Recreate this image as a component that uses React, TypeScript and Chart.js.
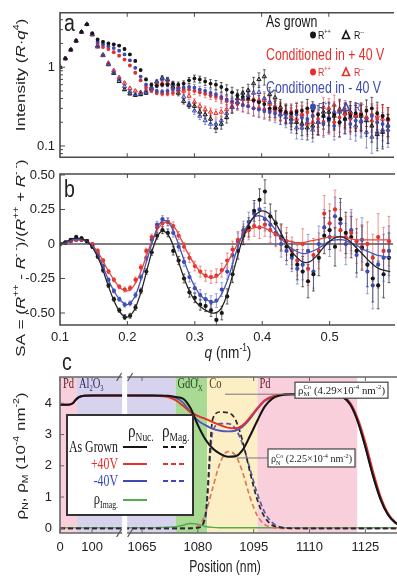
import { useEffect, useRef } from 'react';
import { Chart, registerables } from 'chart.js';

Chart.register(...registerables);

// ================= Panel a / b : momentum transfer q (nm^-1) =================
const Q = [
  0.100, 0.108, 0.116, 0.124, 0.132, 0.140, 0.148, 0.156,
  0.164, 0.172, 0.180, 0.188, 0.196, 0.204, 0.212, 0.220,
  0.228, 0.236, 0.244, 0.252, 0.260, 0.268, 0.276, 0.284,
  0.292, 0.300, 0.308, 0.316, 0.324, 0.332, 0.340, 0.348,
  0.356, 0.364, 0.372, 0.380, 0.388, 0.396, 0.404, 0.412,
  0.420, 0.428, 0.436, 0.444, 0.452, 0.460, 0.468, 0.476,
  0.484, 0.492, 0.500, 0.508, 0.516, 0.524, 0.532, 0.540,
  0.548, 0.556, 0.564, 0.572, 0.580, 0.588,
];
// relative error of the reflectivity (panel a)
const ERR_A = [
  0.02, 0.02, 0.02, 0.02, 0.02, 0.02, 0.02, 0.02,
  0.03, 0.03, 0.03, 0.03, 0.03, 0.03, 0.03, 0.03,
  0.04, 0.05, 0.05, 0.06, 0.06, 0.07, 0.08, 0.08,
  0.09, 0.1, 0.1, 0.11, 0.12, 0.13, 0.14, 0.15,
  0.16, 0.17, 0.18, 0.19, 0.2, 0.21, 0.22, 0.23,
  0.24, 0.25, 0.26, 0.27, 0.28, 0.29, 0.3, 0.3,
  0.31, 0.32, 0.33, 0.34, 0.35, 0.35, 0.36, 0.36,
  0.37, 0.37, 0.38, 0.38, 0.39, 0.4,
];
// As grown
const AG_UP = [
  1.0, 1.29, 1.67, 2.16, 2.8, 3.5, 2.7, 2.25,
  2.1, 2.0, 1.95, 1.88, 1.7, 1.45, 1.2, 0.92,
  0.7, 0.6, 0.58, 0.6, 0.6, 0.62, 0.6, 0.62,
  0.68, 0.72, 0.7, 0.66, 0.62, 0.6, 0.56, 0.52,
  0.48, 0.44, 0.42, 0.4, 0.38, 0.36, 0.34, 0.3,
  0.3, 0.28, 0.27, 0.26, 0.27, 0.28, 0.3, 0.28,
  0.25, 0.24, 0.22, 0.25, 0.2, 0.22, 0.24, 0.26,
  0.25, 0.28, 0.3, 0.26, 0.24, 0.22,
];
const AG_LO = [
  1.0, 1.29, 1.67, 2.16, 2.8, 3.5, 2.6, 1.88,
  1.43, 1.08, 0.84, 0.66, 0.52, 0.46, 0.44, 0.45,
  0.47, 0.53, 0.65, 0.73, 0.7, 0.56, 0.47, 0.37,
  0.33, 0.32, 0.27, 0.25, 0.22, 0.17, 0.19, 0.23,
  0.31, 0.4, 0.47, 0.51, 0.62, 0.7, 0.76, 0.45,
  0.41, 0.31, 0.26, 0.22, 0.2, 0.19, 0.17, 0.18,
  0.2, 0.27, 0.27, 0.24, 0.29, 0.26, 0.27, 0.24,
  0.24, 0.21, 0.18, 0.14, 0.15, 0.18,
];
// Conditioned in +40 V
const P40_UP = [
  1.0, 1.29, 1.67, 2.16, 2.8, 3.5, 2.6, 2.0,
  1.8, 1.7, 1.55, 1.4, 1.25, 1.05, 0.85, 0.68,
  0.55, 0.5, 0.47, 0.46, 0.46, 0.47, 0.5, 0.52,
  0.52, 0.5, 0.48, 0.46, 0.44, 0.42, 0.4, 0.37,
  0.35, 0.34, 0.33, 0.32, 0.3, 0.3, 0.29, 0.28,
  0.28, 0.27, 0.26, 0.27, 0.28, 0.25, 0.27, 0.24,
  0.22, 0.2, 0.22, 0.2, 0.23, 0.25, 0.22, 0.24,
  0.26, 0.23, 0.25, 0.22, 0.24, 0.21,
];
const P40_LO = [
  1.0, 1.29, 1.67, 2.16, 2.8, 3.5, 2.6, 1.81,
  1.41, 1.13, 0.91, 0.74, 0.63, 0.54, 0.5, 0.48,
  0.5, 0.55, 0.6, 0.62, 0.63, 0.61, 0.56, 0.5,
  0.43, 0.36, 0.32, 0.29, 0.27, 0.26, 0.27, 0.29,
  0.32, 0.36, 0.39, 0.39, 0.39, 0.38, 0.38, 0.34,
  0.32, 0.29, 0.27, 0.24, 0.22, 0.25, 0.19, 0.2,
  0.2, 0.31, 0.3, 0.33, 0.28, 0.28, 0.26, 0.25,
  0.25, 0.23, 0.21, 0.24, 0.22, 0.22,
];
// Conditioned in -40 V
const M40_UP = [
  1.0, 1.29, 1.67, 2.16, 2.8, 3.5, 2.65, 2.1,
  1.95, 1.85, 1.75, 1.62, 1.45, 1.22, 0.98, 0.76,
  0.6, 0.53, 0.5, 0.49, 0.5, 0.52, 0.54, 0.55,
  0.56, 0.55, 0.52, 0.5, 0.47, 0.45, 0.42, 0.39,
  0.37, 0.35, 0.33, 0.32, 0.3, 0.29, 0.28, 0.27,
  0.26, 0.25, 0.25, 0.24, 0.25, 0.23, 0.22, 0.24,
  0.2, 0.19, 0.21, 0.18, 0.2, 0.22, 0.19, 0.21,
  0.2, 0.22, 0.24, 0.2, 0.19, 0.18,
];
const M40_LO = [
  1.0, 1.29, 1.67, 2.16, 2.8, 3.5, 2.6, 1.83,
  1.41, 1.09, 0.86, 0.7, 0.57, 0.49, 0.45, 0.47,
  0.49, 0.56, 0.66, 0.71, 0.69, 0.61, 0.52, 0.42,
  0.34, 0.28, 0.24, 0.21, 0.19, 0.19, 0.21, 0.26,
  0.31, 0.36, 0.4, 0.44, 0.47, 0.48, 0.4, 0.36,
  0.3, 0.25, 0.23, 0.2, 0.17, 0.17, 0.2, 0.16,
  0.2, 0.24, 0.23, 0.27, 0.27, 0.22, 0.23, 0.18,
  0.21, 0.15, 0.13, 0.15, 0.16, 0.16,
];

// Spin asymmetry (panel b)
const SA_AG = [
  0, 0.01, 0.03, 0.05, 0.04, 0.02, -0.02, -0.09,
  -0.19, -0.3, -0.4, -0.48, -0.53, -0.52, -0.46, -0.34,
  -0.2, -0.06, 0.06, 0.1, 0.08, -0.05, -0.12, -0.25,
  -0.35, -0.39, -0.44, -0.45, -0.48, -0.55, -0.5, -0.38,
  -0.22, -0.05, 0.06, 0.12, 0.24, 0.32, 0.38, 0.2,
  0.15, 0.05, -0.02, -0.08, -0.15, -0.2, -0.27, -0.22,
  -0.1, 0.06, 0.1, -0.02, 0.18, 0.08, 0.05, -0.05,
  -0.03, -0.15, -0.25, -0.3, -0.22, -0.1,
];
const SA_P40 = [
  0, 0.01, 0.02, 0.03, 0.03, 0.02, 0.0, -0.05,
  -0.12, -0.2, -0.26, -0.31, -0.33, -0.32, -0.26, -0.17,
  -0.05, 0.05, 0.12, 0.15, 0.16, 0.13, 0.06, -0.02,
  -0.1, -0.16, -0.2, -0.23, -0.24, -0.23, -0.19, -0.12,
  -0.04, 0.03, 0.08, 0.1, 0.13, 0.12, 0.14, 0.1,
  0.07, 0.04, 0.02, -0.05, -0.12, 0.0, -0.18, -0.08,
  -0.05, 0.22, 0.15, 0.25, 0.1, 0.05, 0.08, 0.02,
  -0.02, 0.0, -0.1, 0.05, -0.05, 0.02,
];
const SA_M40 = [
  0, 0.01, 0.02, 0.03, 0.03, 0.02, -0.01, -0.07,
  -0.16, -0.26, -0.34, -0.4, -0.44, -0.43, -0.37, -0.24,
  -0.1, 0.03, 0.14, 0.18, 0.16, 0.08, -0.02, -0.13,
  -0.24, -0.32, -0.37, -0.4, -0.42, -0.41, -0.33, -0.2,
  -0.08, 0.02, 0.1, 0.16, 0.22, 0.25, 0.18, 0.14,
  0.08, 0.0, -0.05, -0.1, -0.18, -0.15, -0.05, -0.2,
  0.0, 0.12, 0.05, 0.2, 0.15, 0.0, 0.1, -0.08,
  0.03, -0.2, -0.3, -0.15, -0.1, -0.05,
];
const ERR_B = [
  0.01, 0.01, 0.01, 0.012, 0.012, 0.012, 0.012, 0.015,
  0.015, 0.015, 0.015, 0.015, 0.018, 0.018, 0.02, 0.02,
  0.02, 0.022, 0.025, 0.025, 0.028, 0.03, 0.03, 0.032,
  0.035, 0.035, 0.04, 0.04, 0.045, 0.05, 0.05, 0.055,
  0.06, 0.06, 0.065, 0.07, 0.075, 0.08, 0.085, 0.09,
  0.09, 0.095, 0.1, 0.1, 0.11, 0.11, 0.12, 0.12,
  0.13, 0.13, 0.14, 0.14, 0.15, 0.15, 0.15, 0.16,
  0.16, 0.16, 0.17, 0.17, 0.17, 0.18,
];
const Q_FIT = [
  0.10, 0.11, 0.12, 0.13, 0.14, 0.15, 0.16, 0.17, 0.18, 0.19,
  0.20, 0.21, 0.22, 0.23, 0.24, 0.25, 0.26, 0.27, 0.28, 0.29,
  0.30, 0.31, 0.32, 0.33, 0.34, 0.35, 0.36, 0.37, 0.38, 0.39,
  0.40, 0.41, 0.42, 0.43, 0.44, 0.45, 0.46, 0.47, 0.48, 0.49,
  0.50, 0.51, 0.52, 0.53, 0.54, 0.55, 0.56, 0.57, 0.58, 0.59,
];
const FIT_AG = [
  0, 0.02, 0.04, 0.04, 0.02, -0.04, -0.14, -0.28, -0.41, -0.5,
  -0.53, -0.48, -0.35, -0.17, 0, 0.09, 0.07, -0.04, -0.19, -0.32,
  -0.41, -0.46, -0.49, -0.5, -0.46, -0.33, -0.15, 0.02, 0.14, 0.21,
  0.24, 0.22, 0.15, 0.06, -0.03, -0.09, -0.13, -0.13, -0.09, -0.03,
  0.02, 0.05, 0.05, 0.02, -0.03, -0.08, -0.13, -0.17, -0.19, -0.2,
];
const FIT_P40 = [
  0, 0.01, 0.03, 0.03, 0.02, -0.02, -0.09, -0.18, -0.26, -0.32,
  -0.34, -0.3, -0.2, -0.06, 0.06, 0.14, 0.16, 0.12, 0.03, -0.07,
  -0.15, -0.21, -0.24, -0.24, -0.2, -0.12, -0.03, 0.05, 0.1, 0.12,
  0.12, 0.1, 0.07, 0.04, 0.02, 0.01, 0.01, 0.02, 0.03, 0.04,
  0.05, 0.05, 0.05, 0.04, 0.03, 0.03, 0.03, 0.03, 0.03, 0.03,
];
const FIT_M40 = [
  0, 0.01, 0.03, 0.03, 0.02, -0.03, -0.12, -0.24, -0.34, -0.41,
  -0.44, -0.39, -0.26, -0.1, 0.06, 0.16, 0.16, 0.07, -0.06, -0.2,
  -0.31, -0.38, -0.41, -0.42, -0.36, -0.24, -0.08, 0.06, 0.15, 0.2,
  0.2, 0.16, 0.1, 0.03, -0.02, -0.05, -0.07, -0.06, -0.04, -0.01,
  0.02, 0.03, 0.03, 0.01, -0.01, -0.04, -0.06, -0.08, -0.09, -0.1,
];
const Q_RANGE = [0.1, 0.594];
const Q_TICKS = [0.1, 0.2, 0.3, 0.4, 0.5];
const Q_LABELS = ['0.1', '0.2', '0.3', '0.4', '0.5'];
const INT_RANGE = [0.072, 4.9];
const INT_TICKS = [0.1, 1];
const INT_LABELS = ['0.1', '1'];
const INT_MINOR = [0.08, 0.09, 0.2, 0.3, 0.4, 0.5, 0.6, 0.7, 0.8, 0.9, 2, 3, 4];
const SA_RANGE = [-0.587, 0.507];
const SA_TICKS = [-0.5, -0.25, 0, 0.25, 0.5];
const SA_LABELS = ['-0.50', '-0.25', '0', '0.25', '0.50'];
const LEG_A = ['As grown', 'Conditioned in + 40 V', 'Conditioned in - 40 V'];

// ================= Panel c : SLD depth profile =================
const POS = [
  0, 25, 40, 50, 60, 75, 100, 150, 194,
  1061, 1068, 1072, 1074, 1076, 1078, 1080, 1082, 1084, 1086,
  1088, 1090, 1092, 1094, 1096, 1098, 1100, 1102, 1105, 1110,
  1116, 1119, 1121, 1123, 1125, 1127, 1129, 1131, 1133, 1135,
];
const NUC_AG = [
  3.95, 3.95, 4.0, 4.12, 4.2, 4.24, 4.25, 4.25, 4.25,
  4.25, 4.25, 4.24, 4.2, 4.15, 3.85, 3.3, 2.85, 2.55, 2.38,
  2.29, 2.3, 2.5, 2.95, 3.45, 3.9, 4.15, 4.25, 4.29, 4.29,
  4.29, 4.2, 3.95, 3.4, 2.6, 1.7, 0.95, 0.45, 0.18, 0.07,
];
const NUC_P40 = [
  3.95, 3.95, 4.0, 4.12, 4.2, 4.24, 4.25, 4.25, 4.25,
  4.25, 4.24, 4.2, 4.1, 3.92, 3.72, 3.6, 3.5, 3.4, 3.3,
  3.22, 3.2, 3.3, 3.55, 3.85, 4.1, 4.22, 4.27, 4.29, 4.29,
  4.29, 4.22, 4.0, 3.5, 2.75, 1.85, 1.05, 0.5, 0.2, 0.08,
];
const NUC_M40 = [
  3.95, 3.95, 4.0, 4.12, 4.2, 4.24, 4.25, 4.25, 4.25,
  4.25, 4.25, 4.23, 4.18, 4.02, 3.72, 3.45, 3.3, 3.18, 3.12,
  3.1, 3.12, 3.25, 3.5, 3.82, 4.08, 4.2, 4.26, 4.29, 4.29,
  4.29, 4.2, 3.95, 3.42, 2.62, 1.72, 0.97, 0.46, 0.19, 0.07,
];
const MAG_AG = [
  0, 0, 0, 0, 0, 0, 0, 0, 0,
  0, 0, 0, 0, 0, 0, 0.02, 0.4, 3.5, 3.72,
  3.7, 3.5, 2.8, 1.8, 0.9, 0.35, 0.1, 0.03, 0, 0,
  0, 0, 0, 0, 0, 0, 0, 0, 0, 0,
];
const MAG_P40 = [
  0, 0, 0, 0, 0, 0, 0, 0, 0,
  0, 0, 0, 0, 0, 0.01, 0.08, 0.45, 1.3, 2.1,
  2.45, 2.35, 1.8, 1.0, 0.4, 0.12, 0.03, 0, 0, 0,
  0, 0, 0, 0, 0, 0, 0, 0, 0, 0,
];
const MAG_M40 = [
  0, 0, 0, 0, 0, 0, 0, 0, 0,
  0, 0, 0, 0, 0, 0, 0.02, 0.3, 3.1, 3.35,
  3.35, 3.2, 2.7, 1.9, 1.1, 0.5, 0.18, 0.05, 0.01, 0,
  0, 0, 0, 0, 0, 0, 0, 0, 0, 0,
];
const IMAG = [
  0.02, 0.02, 0.02, 0.02, 0.02, 0.02, 0.02, 0.02, 0.02,
  0.02, 0.02, 0.03, 0.05, 0.1, 0.15, 0.13, 0.06, 0.03, 0.02,
  0.02, 0.02, 0.02, 0.02, 0.02, 0.02, 0.02, 0.02, 0.02, 0.02,
  0.02, 0.02, 0.02, 0.02, 0.02, 0.02, 0.02, 0.02, 0.02, 0.02,
];
const POS_TICKS = [0, 100, 1065, 1080, 1095, 1110, 1125];
const POS_LABELS = ['0', '100', '1065', '1080', '1095', '1110', '1125'];
const POS_MAX = 1133.5;
const BREAK_FROM = 194;
const BREAK_TO = 1061;
const RHO_RANGE = [-0.15, 4.84];
const RHO_TICKS = [0, 1, 2, 3, 4];
const LAYER_NAMES = ['Pd', 'Al2O3', 'GdOx', 'Co', 'Pd'];
const LAYER_FROM = [0, 53, 1074, 1082.5, 1096];
const LAYER_TO = [53, 1074, 1082.5, 1096, 1122.8];
const SLD_NOTE_VALUES = [4.29, 2.25];
const LEG_C = ['As Grown', '+40V', '-40V'];

// ================= styles =================
const C_BLACK = '#161616';
const C_RED = '#e3302c';
const C_BLUE = '#3d4bb0';
const C_GREEN = '#4fae4c';
const C_FRAME = '#4a4a4a';
const LAYER_FILL = ['#f8cfda', '#d7d3ef', '#a9da93', '#fcefc6', '#f8cfda'];
const LAYER_TXT = ['#5a1e2c', '#28285e', '#1e4a1e', '#4a3a12', '#5a1e2c'];
const SANS = '"Liberation Sans", Arial, sans-serif';
const SERIF = '"Liberation Serif", "Times New Roman", serif';

// broken-axis mapping: real position (nm) -> axis coordinate
const LEFT_K = 0.086;
const LEFT_U0 = 1042.96;
const brk = (p: number) => (p <= BREAK_FROM ? LEFT_U0 + p * LEFT_K : p);

function hasFont(name: string): boolean {
  const c = document.createElement('canvas').getContext('2d');
  if (!c) return false;
  const s = 'Position 1065 0.25 mmwwllii';
  for (const base of ['monospace', 'serif']) {
    c.font = `16px ${base}`;
    const w0 = c.measureText(s).width;
    c.font = `16px "${name}", ${base}`;
    if (Math.abs(c.measureText(s).width - w0) > 0.5) return true;
  }
  return false;
}

let TICK_FONT: any = { family: SANS, size: 13 };
function pickFonts() {
  if (hasFont('Liberation Sans Narrow')) TICK_FONT = { family: '"Liberation Sans Narrow"', size: 16 };
}

type Run = { t: string; i?: boolean; up?: boolean; dn?: boolean; st?: boolean };
type RO = { size: number; family: string; color: string; align?: string; rot?: number; sq?: number; fitW?: number; weight?: string };

function rich(ctx: CanvasRenderingContext2D, runs: Run[], x: number, y: number, o: RO) {
  const fontOf = (r: Run) => {
    const s = r.up || r.dn ? o.size * 0.62 : o.size;
    return [r.i ? 'italic' : '', o.weight || '', `${s.toFixed(1)}px`, o.family].filter(Boolean).join(' ');
  };
  ctx.save();
  let w = 0;
  for (const r of runs) {
    ctx.font = fontOf(r);
    if (!r.st) w += ctx.measureText(r.t).width;
  }
  let sq = o.sq ?? 1;
  if (o.fitW) sq = o.fitW / w;
  ctx.translate(x, y);
  if (o.rot) {
    ctx.rotate(o.rot);
    ctx.scale(1, sq);
  } else ctx.scale(sq, 1);
  let cx = o.align === 'center' ? -w / 2 : o.align === 'right' ? -w : 0;
  ctx.fillStyle = o.color;
  ctx.textAlign = 'left';
  ctx.textBaseline = 'alphabetic';
  for (const r of runs) {
    ctx.font = fontOf(r);
    const dy = r.up ? -o.size * 0.42 : r.dn ? o.size * 0.22 : 0;
    ctx.fillText(r.t, cx, dy);
    if (!r.st) cx += ctx.measureText(r.t).width;
  }
  ctx.restore();
}

function drawErrBars(chart: any) {
  const { ctx, chartArea: ca, scales } = chart;
  const y = scales.y;
  ctx.save();
  ctx.beginPath();
  ctx.rect(ca.left, ca.top, ca.right - ca.left, ca.bottom - ca.top);
  ctx.clip();
  chart.data.datasets.forEach((ds: any) => {
    if (!ds.err) return;
    ctx.strokeStyle = ds.errColor;
    ctx.lineWidth = 0.9;
    ctx.beginPath();
    ds.data.forEach((pt: any, k: number) => {
      const e = ds.err[k];
      const hi = ds.errRel ? pt.y * (1 + e) : pt.y + e;
      const lo = ds.errRel ? pt.y * (1 - e) : pt.y - e;
      const px = scales.x.getPixelForValue(pt.x);
      const y1 = y.getPixelForValue(hi);
      const y2 = y.getPixelForValue(lo);
      ctx.moveTo(px, y1);
      ctx.lineTo(px, y2);
      ctx.moveTo(px - 1.4, y1);
      ctx.lineTo(px + 1.4, y1);
      ctx.moveTo(px - 1.4, y2);
      ctx.lineTo(px + 1.4, y2);
    });
    ctx.stroke();
  });
  ctx.restore();
}

function frameQ(chart: any, yTicks: number[], yMinor: number[]) {
  const { ctx, chartArea: ca, scales } = chart;
  ctx.save();
  ctx.strokeStyle = C_FRAME;
  ctx.lineWidth = 1.6;
  ctx.beginPath();
  ctx.moveTo(ca.right + 2, ca.top);
  ctx.lineTo(ca.left, ca.top);
  ctx.lineTo(ca.left, ca.bottom);
  ctx.lineTo(ca.right + 2, ca.bottom);
  ctx.stroke();
  ctx.lineWidth = 1;
  ctx.beginPath();
  for (const v of Q_TICKS.slice(1)) {
    const px = scales.x.getPixelForValue(v);
    ctx.moveTo(px, ca.top);
    ctx.lineTo(px, ca.top + 4);
    ctx.moveTo(px, ca.bottom);
    ctx.lineTo(px, ca.bottom - 4);
  }
  for (const v of yTicks) {
    const py = scales.y.getPixelForValue(v);
    ctx.moveTo(ca.left, py);
    ctx.lineTo(ca.left + 5, py);
  }
  for (const v of yMinor) {
    const py = scales.y.getPixelForValue(v);
    ctx.moveTo(ca.left, py);
    ctx.lineTo(ca.left + 3, py);
  }
  ctx.stroke();
  ctx.restore();
}

const noGrid = { display: false, drawTicks: false };
const baseOpts = {
  animation: false,
  responsive: false,
  maintainAspectRatio: false,
  events: [],
  plugins: { legend: { display: false }, tooltip: { enabled: false } },
};

function markerRow(ctx: CanvasRenderingContext2D, y: number, color: string) {
  ctx.save();
  ctx.fillStyle = color;
  ctx.beginPath();
  ctx.ellipse(313, y, 3, 3.4, 0, 0, Math.PI * 2);
  ctx.fill();
  rich(ctx, [{ t: 'R' }, { t: '++', up: true }], 318, y + 4, { size: 11, family: SANS, color, sq: 0.8 });
  ctx.strokeStyle = color;
  ctx.lineWidth = 1.6;
  ctx.beginPath();
  ctx.moveTo(346, y - 4);
  ctx.lineTo(349.5, y + 3.5);
  ctx.lineTo(342.5, y + 3.5);
  ctx.closePath();
  ctx.stroke();
  rich(ctx, [{ t: 'R' }, { t: '--', up: true }], 354, y + 4, { size: 11, family: SANS, color, sq: 0.8 });
  ctx.restore();
}

function makeA(cv: HTMLCanvasElement) {
  const pts = (ys: number[]) => Q.map((q, i) => ({ x: q, y: ys[i] }));
  const up = (ys: number[], col: string, ecol: string) => ({
    data: pts(ys), showLine: false, pointStyle: 'circle', pointRadius: 1.9, pointBorderWidth: 0,
    backgroundColor: col, borderColor: col, err: ERR_A, errRel: true, errColor: ecol,
  });
  const lo = (ys: number[], col: string, ecol: string) => ({
    data: pts(ys), showLine: false, pointStyle: 'triangle', pointRadius: 2.4, pointBorderWidth: 1,
    backgroundColor: 'rgba(255,255,255,0)', borderColor: col, err: ERR_A, errRel: true, errColor: ecol,
  });
  const plug = {
    id: 'panelA',
    beforeDatasetsDraw: (chart: any) => drawErrBars(chart),
    afterDatasetsDraw: (chart: any) => frameQ(chart, INT_TICKS, INT_MINOR),
    afterDraw: (chart: any) => {
      const ctx = chart.ctx;
      rich(ctx, [{ t: 'a' }], 64, 31, { size: 23, family: SANS, color: '#222', sq: 0.85 });
      rich(ctx, [{ t: 'Intensity (' }, { t: 'R', i: true }, { t: '·' }, { t: 'q', i: true }, { t: '4', up: true }, { t: ')' }],
        25, 75, { size: 17, family: SANS, color: '#222', align: 'center', rot: -Math.PI / 2, sq: 0.8 });
      const cols = [C_BLACK, C_RED, C_BLUE];
      const base = [27, 60, 93];
      const rows = [35, 72, 107];
      LEG_A.forEach((t, i) => {
        rich(ctx, [{ t }], 266, base[i], { size: 16, family: SANS, color: cols[i], sq: 0.77 });
        markerRow(ctx, rows[i], cols[i]);
      });
    },
  };
  return new Chart(cv, {
    type: 'scatter',
    data: {
      datasets: [
        up(AG_UP, C_BLACK, 'rgba(20,20,20,0.75)'),
        lo(M40_LO, C_BLUE, 'rgba(60,75,176,0.6)'),
        lo(P40_LO, C_RED, 'rgba(227,48,44,0.6)'),
        up(M40_UP, C_BLUE, 'rgba(60,75,176,0.6)'),
        up(P40_UP, C_RED, 'rgba(227,48,44,0.6)'),
        lo(AG_LO, C_BLACK, 'rgba(20,20,20,0.7)'),
      ] as any,
    },
    options: {
      ...baseOpts,
      layout: { padding: { top: 10, bottom: 6, left: 0, right: 0 } },
      scales: {
        x: {
          type: 'linear', min: Q_RANGE[0], max: Q_RANGE[1], grid: noGrid, border: { display: false },
          ticks: { display: false }, afterFit: (s: any) => { s.height = 0; },
        },
        y: {
          type: 'logarithmic', min: INT_RANGE[0], max: INT_RANGE[1], grid: noGrid, border: { display: false },
          ticks: { font: TICK_FONT, color: '#222', padding: 5, callback: (_v: any, i: number) => INT_LABELS[i] },
          afterBuildTicks: (s: any) => { s.ticks = INT_TICKS.map((v) => ({ value: v })); },
          afterFit: (s: any) => { s.width = 60; },
        },
      },
    } as any,
    plugins: [plug],
  });
}

function makeB(cv: HTMLCanvasElement) {
  const pts = (ys: number[]) => Q.map((q, i) => ({ x: q, y: ys[i] }));
  const fit = (ys: number[]) => Q_FIT.map((q, i) => ({ x: q, y: ys[i] }));
  const dots = (ys: number[], col: string, ecol: string, order: number) => ({
    data: pts(ys), showLine: false, pointStyle: 'circle', pointRadius: 2.1, pointBorderWidth: 0,
    backgroundColor: col, borderColor: col, err: ERR_B, errRel: false, errColor: ecol, order,
  });
  const line = (ys: number[], col: string, order: number) => ({
    data: fit(ys), showLine: true, pointRadius: 0, borderColor: col, backgroundColor: col,
    borderWidth: 1.3, tension: 0.4, order,
  });
  const plug = {
    id: 'panelB',
    beforeDatasetsDraw: (chart: any) => {
      const { ctx, chartArea: ca, scales } = chart;
      const y0 = scales.y.getPixelForValue(0);
      ctx.save();
      ctx.strokeStyle = '#555';
      ctx.lineWidth = 1.5;
      ctx.beginPath();
      ctx.moveTo(ca.left, y0);
      ctx.lineTo(ca.right, y0);
      ctx.stroke();
      ctx.restore();
      drawErrBars(chart);
    },
    afterDatasetsDraw: (chart: any) => frameQ(chart, SA_TICKS, []),
    afterDraw: (chart: any) => {
      const ctx = chart.ctx;
      rich(ctx, [{ t: 'b' }], 64, 37, { size: 23, family: SANS, color: '#222', sq: 0.85 });
      rich(ctx, [
        { t: 'SA = (' }, { t: 'R', i: true }, { t: '++', up: true }, { t: ' - ' }, { t: 'R', i: true }, { t: '- -', up: true },
        { t: ')/(' }, { t: 'R', i: true }, { t: '++', up: true }, { t: ' + ' }, { t: 'R', i: true }, { t: '- -', up: true }, { t: ')' },
      ], 25, 98, { size: 17, family: SANS, color: '#222', align: 'center', rot: -Math.PI / 2, sq: 0.8 });
      rich(ctx, [{ t: 'q', i: true }, { t: ' (nm' }, { t: '-1', up: true }, { t: ')' }], 228, 198,
        { size: 17, family: SANS, color: '#222', align: 'center', sq: 0.8 });
    },
  };
  return new Chart(cv, {
    type: 'scatter',
    data: {
      datasets: [
        line(FIT_AG, '#262626', 0),
        line(FIT_M40, '#4654b8', 0),
        line(FIT_P40, '#e8443a', 0),
        dots(SA_AG, C_BLACK, 'rgba(25,25,25,0.75)', 1),
        dots(SA_P40, C_RED, 'rgba(227,60,50,0.6)', 2),
        dots(SA_M40, C_BLUE, 'rgba(70,85,185,0.6)', 3),
      ] as any,
    },
    options: {
      ...baseOpts,
      layout: { padding: { top: 14, bottom: 0, left: 0, right: 0 } },
      scales: {
        x: {
          type: 'linear', min: Q_RANGE[0], max: Q_RANGE[1], grid: noGrid, border: { display: false },
          ticks: { font: TICK_FONT, color: '#222', padding: 5, autoSkip: false, maxRotation: 0,
            callback: (_v: any, i: number) => Q_LABELS[i] },
          afterBuildTicks: (s: any) => { s.ticks = Q_TICKS.map((v) => ({ value: v })); },
          afterFit: (s: any) => { s.height = 43; },
        },
        y: {
          type: 'linear', min: SA_RANGE[0], max: SA_RANGE[1], grid: noGrid, border: { display: false },
          ticks: { font: TICK_FONT, color: '#222', padding: 5, callback: (_v: any, i: number) => SA_LABELS[i] },
          afterBuildTicks: (s: any) => { s.ticks = SA_TICKS.map((v) => ({ value: v })); },
          afterFit: (s: any) => { s.width = 60; },
        },
      },
    } as any,
    plugins: [plug],
  });
}

function makeC(cv: HTMLCanvasElement) {
  const pts = (ys: number[]) => POS.map((p, i) => ({ x: brk(p), y: ys[i] }));
  const line = (ys: number[], col: string, dash: number[], order: number, w = 1.9) => ({
    data: pts(ys), showLine: true, pointRadius: 0, borderColor: col, backgroundColor: col,
    borderWidth: w, borderDash: dash, cubicInterpolationMode: 'monotone', order,
  });
  const layerRuns = (n: string): Run[] => {
    if (n === 'Al2O3') return [{ t: 'Al' }, { t: '2', dn: true }, { t: 'O' }, { t: '3', dn: true }];
    if (n === 'GdOx') return [{ t: 'GdO' }, { t: 'X', dn: true }];
    return [{ t: n }];
  };
  const plug = {
    id: 'panelC',
    beforeDatasetsDraw: (chart: any) => {
      const { ctx, chartArea: ca, scales } = chart;
      ctx.save();
      LAYER_FROM.forEach((f, i) => {
        const x1 = Math.max(ca.left, scales.x.getPixelForValue(brk(f)));
        const x2 = Math.min(ca.right, scales.x.getPixelForValue(brk(LAYER_TO[i])));
        ctx.fillStyle = LAYER_FILL[i];
        ctx.fillRect(x1, ca.top, x2 - x1, ca.bottom - ca.top);
      });
      ctx.restore();
    },
    afterDatasetsDraw: (chart: any) => {
      const { ctx, chartArea: ca, scales } = chart;
      const X = scales.x, Y = scales.y;
      const g1 = X.getPixelForValue(brk(BREAK_FROM));
      const g2 = X.getPixelForValue(brk(BREAK_TO));
      ctx.save();
      ctx.fillStyle = '#fff';
      ctx.fillRect(g1, ca.top - 3, g2 - g1, ca.bottom - ca.top + 6);
      // frame
      ctx.strokeStyle = '#666';
      ctx.lineWidth = 1.6;
      ctx.beginPath();
      ctx.moveTo(g1, ca.top); ctx.lineTo(ca.left, ca.top); ctx.lineTo(ca.left, ca.bottom); ctx.lineTo(g1, ca.bottom);
      ctx.moveTo(g2, ca.top); ctx.lineTo(ca.right + 2, ca.top);
      ctx.moveTo(g2, ca.bottom); ctx.lineTo(ca.right + 2, ca.bottom);
      ctx.stroke();
      ctx.lineWidth = 1;
      ctx.beginPath();
      for (const p of POS_TICKS) {
        const px = X.getPixelForValue(brk(p));
        ctx.moveTo(px, ca.top); ctx.lineTo(px, ca.top + 4);
        ctx.moveTo(px, ca.bottom); ctx.lineTo(px, ca.bottom - 4);
      }
      for (const v of RHO_TICKS) {
        const py = Y.getPixelForValue(v);
        ctx.moveTo(ca.left, py); ctx.lineTo(ca.left + 4, py);
      }
      ctx.stroke();
      // break marks
      ctx.strokeStyle = '#555';
      ctx.lineWidth = 1.2;
      ctx.beginPath();
      for (const yy of [ca.top, ca.bottom]) {
        for (const xx of [g1 - 3, g2 + 3]) {
          ctx.moveTo(xx - 2.5, yy + 4);
          ctx.lineTo(xx + 2.5, yy - 4);
        }
      }
      ctx.stroke();
      // layer names
      LAYER_NAMES.forEach((n, i) => {
        const px = Math.max(ca.left + 3, X.getPixelForValue(brk(LAYER_FROM[i])) + 2);
        rich(ctx, layerRuns(n), px, ca.top + 11, { size: 14, family: SERIF, color: LAYER_TXT[i], sq: 0.75 });
      });
      // SLD notes with leader lines
      const notes = [
        { runs: [{ t: 'ρ' }, { t: 'M', dn: true, st: true }, { t: 'Co', up: true }, { t: ' (4.29×10' }, { t: '-4', up: true }, { t: ' nm' }, { t: '-2', up: true }, { t: ')' }] as Run[],
          x0: 225, bx: 295, bw: 93, bh: 16 },
        { runs: [{ t: 'ρ' }, { t: 'N', dn: true, st: true }, { t: 'Co', up: true }, { t: ' (2.25×10' }, { t: '-4', up: true }, { t: ' nm' }, { t: '-2', up: true }, { t: ')' }] as Run[],
          x0: 237, bx: 268, bw: 87, bh: 18 },
      ];
      notes.forEach((n, i) => {
        const py = Y.getPixelForValue(SLD_NOTE_VALUES[i]);
        ctx.strokeStyle = '#777';
        ctx.lineWidth = 1;
        ctx.beginPath();
        ctx.moveTo(n.x0, py);
        ctx.lineTo(n.bx, py);
        ctx.stroke();
        const top = py - n.bh / 2 - (i === 0 ? 4 : 0);
        ctx.fillStyle = '#fff';
        ctx.fillRect(n.bx, top, n.bw, n.bh);
        ctx.strokeStyle = '#444';
        ctx.lineWidth = 1.2;
        ctx.strokeRect(n.bx, top, n.bw, n.bh);
        rich(ctx, n.runs, n.bx + 3, top + n.bh - 4.5, { size: 11, family: SERIF, color: '#222', fitW: n.bw - 6 });
      });
      // legend box
      const lx = 67, ly = 65, lw = 126, lh = 100;
      ctx.fillStyle = '#fff';
      ctx.fillRect(lx, ly, lw, lh);
      ctx.strokeStyle = '#333';
      ctx.lineWidth = 2;
      ctx.strokeRect(lx, ly, lw, lh);
      rich(ctx, [{ t: 'ρ' }, { t: 'Nuc.', dn: true }], 128, 87, { size: 19, family: SERIF, color: '#222', sq: 0.8 });
      rich(ctx, [{ t: 'ρ' }, { t: 'Mag.', dn: true }], 162, 87, { size: 19, family: SERIF, color: '#222', sq: 0.8 });
      const cols = [C_BLACK, C_RED, C_BLUE];
      const rowY = [97, 114, 131];
      LEG_C.forEach((t, i) => {
        rich(ctx, [{ t }], 118, rowY[i] + 5, { size: 16, family: SERIF, color: cols[i], align: 'right', sq: 0.74 });
        ctx.strokeStyle = cols[i];
        ctx.lineWidth = 2;
        ctx.setLineDash([]);
        ctx.beginPath();
        ctx.moveTo(123, rowY[i]); ctx.lineTo(147, rowY[i]);
        ctx.stroke();
        ctx.setLineDash([5, 3]);
        ctx.beginPath();
        ctx.moveTo(163, rowY[i]); ctx.lineTo(184, rowY[i]);
        ctx.stroke();
        ctx.setLineDash([]);
      });
      rich(ctx, [{ t: 'ρ' }, { t: 'Imag.', dn: true }], 118, 154, { size: 17, family: SERIF, color: '#222', align: 'right', sq: 0.74 });
      ctx.strokeStyle = C_GREEN;
      ctx.lineWidth = 2;
      ctx.beginPath();
      ctx.moveTo(123, 150); ctx.lineTo(147, 150);
      ctx.stroke();
      ctx.restore();
    },
    afterDraw: (chart: any) => {
      const ctx = chart.ctx;
      rich(ctx, [{ t: 'c' }], 62, 20, { size: 23, family: SANS, color: '#222', sq: 0.85 });
      rich(ctx, [{ t: 'ρ' }, { t: 'N', dn: true }, { t: ', ρ' }, { t: 'M', dn: true }, { t: ' (10' }, { t: '-4', up: true }, { t: ' nm' }, { t: '-2', up: true }, { t: ')' }],
        25, 106, { size: 17, family: SANS, color: '#222', align: 'center', rot: -Math.PI / 2, sq: 0.8 });
      rich(ctx, [{ t: 'Position (nm)' }], 225, 222, { size: 16, family: SANS, color: '#222', align: 'center', sq: 0.76 });
    },
  };
  return new Chart(cv, {
    type: 'scatter',
    data: {
      datasets: [
        line(NUC_AG, C_BLACK, [], 0, 2.1),
        line(NUC_P40, C_RED, [], 1),
        line(NUC_M40, '#5058b8', [], 2),
        line(MAG_AG, '#2a2a2a', [5, 3], 3, 1.7),
        line(MAG_M40, '#5a5aa8', [5, 3], 4, 1.7),
        line(MAG_P40, '#e0785a', [5, 3], 5, 1.7),
        line(IMAG, C_GREEN, [], 6, 1.5),
      ] as any,
    },
    options: {
      ...baseOpts,
      layout: { padding: { top: 27, bottom: 0, left: 0, right: 0 } },
      scales: {
        x: {
          type: 'linear', min: brk(0), max: POS_MAX, grid: noGrid, border: { display: false },
          ticks: { font: TICK_FONT, color: '#222', padding: 7, autoSkip: false, maxRotation: 0,
            callback: (_v: any, i: number) => POS_LABELS[i] },
          afterBuildTicks: (s: any) => { s.ticks = POS_TICKS.map((p) => ({ value: brk(p) })); },
          afterFit: (s: any) => { s.height = 45; },
        },
        y: {
          type: 'linear', min: RHO_RANGE[0], max: RHO_RANGE[1], grid: noGrid, border: { display: false },
          ticks: { font: TICK_FONT, color: '#222', padding: 8, callback: (v: any) => String(v) },
          afterBuildTicks: (s: any) => { s.ticks = RHO_TICKS.map((v) => ({ value: v })); },
          afterFit: (s: any) => { s.width = 60; },
        },
      },
    } as any,
    plugins: [plug],
  });
}

export default function App() {
  const ra = useRef<HTMLCanvasElement>(null);
  const rb = useRef<HTMLCanvasElement>(null);
  const rc = useRef<HTMLCanvasElement>(null);
  useEffect(() => {
    pickFonts();
    const a = makeA(ra.current!);
    const b = makeB(rb.current!);
    const c = makeC(rc.current!);
    return () => {
      a.destroy();
      b.destroy();
      c.destroy();
    };
  }, []);
  const cs = (top: number, h: number): any => ({ position: 'absolute', left: 0, top, width: 397, height: h, display: 'block' });
  return (
    <div style={{ position: 'absolute', left: 0, top: 0, width: 397, height: 578, overflow: 'hidden', background: '#fff' }}>
      <canvas ref={ra} width={397} height={170} style={cs(0, 170)} />
      <canvas ref={rb} width={397} height={208} style={cs(160, 208)} />
      <canvas ref={rc} width={397} height={228} style={cs(350, 228)} />
    </div>
  );
}
